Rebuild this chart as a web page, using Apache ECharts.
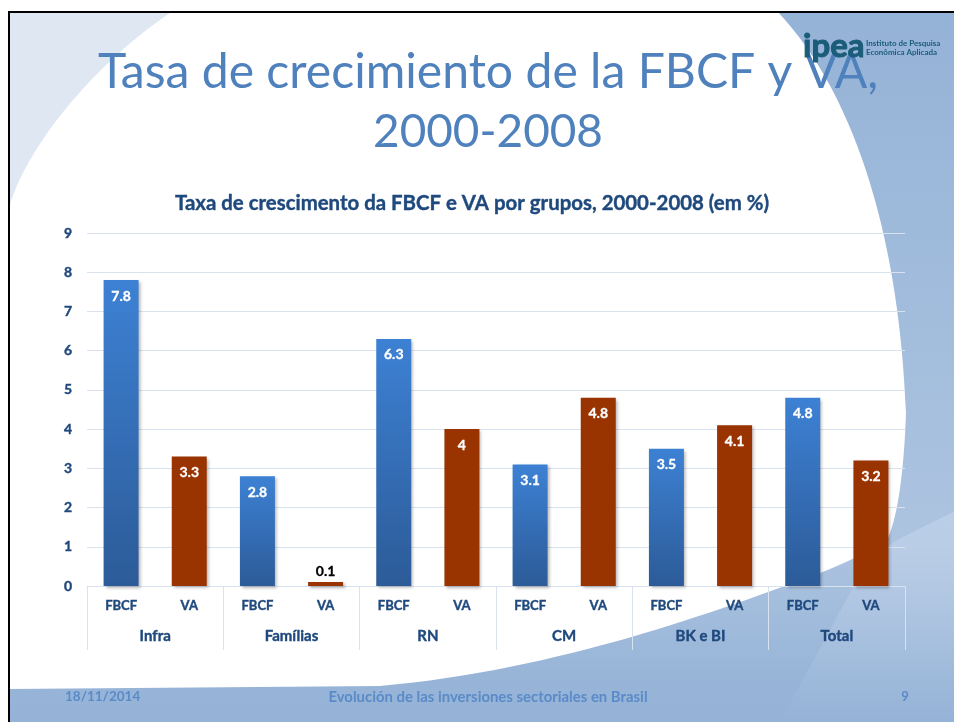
<!DOCTYPE html>
<html><head><meta charset="utf-8">
<script src="https://cdn.jsdelivr.net/npm/echarts@6/dist/echarts.min.js"></script>
<style>html,body{margin:0;padding:0;background:#fff}#c{width:954px;height:722px}</style>
</head><body><div id="c"></div>
<script>
// ---- data ----
const categories = ['FBCF','VA','FBCF','VA','FBCF','VA','FBCF','VA','FBCF','VA','FBCF','VA'];
const groups = ['Infra','Famílias','RN','CM','BK e BI','Total'];
const fbcfValues = [7.8, 2.8, 6.3, 3.1, 3.5, 4.8];
const vaValues = [3.3, 0.1, 4, 4.8, 4.1, 3.2];
const yMin = 0, yMax = 9, yStep = 1;
const mainTitle1 = 'Tasa de crecimiento de la FBCF y VA,';
const mainTitle2 = '2000-2008';
const chartTitle = 'Taxa de crescimento da FBCF e VA por grupos, 2000-2008 (em %)';
const footerDate = '18/11/2014';
const footerText = 'Evolución de las inversiones sectoriales en Brasil';
const footerPage = '9';

const FONT = 'Lato, "Open Sans", sans-serif';
function fit(text, weight, target) {
  const ctx = document.createElement('canvas').getContext('2d');
  ctx.font = weight + ' 100px ' + FONT;
  return 100 * target / ctx.measureText(text).width;
}

echarts.graphic.registerShape('slideWhite', echarts.graphic.extendPath(
  'M9 12 L778 12 C860 100 900 250 906 413 C904 470 898 515 888 538 C870 552 845 563 820 573 C720 610 560 670 380 686 L9 689 Z', {}));
echarts.graphic.registerShape('slideSwoosh', echarts.graphic.extendPath(
  'M10 13 L170 13 C100 60 30 140 10 205 Z', {}));
echarts.graphic.registerShape('slideLight', echarts.graphic.extendPath(
  'M870 556 C900 538 928 524 954 512 L954 722 L780 722 Z', {}));

const axisColor = '#1F497D';
const heavy = {textBorderColor: axisColor, textBorderWidth: 0.4};
const labelInside = {show: true, position: 'insideTop', distance: 9, color: '#fff', fontWeight: 'bold', fontSize: 14, fontFamily: FONT,
  textBorderColor: '#fff', textBorderWidth: 0.3};
function mk(v) {
  if (v == null) return null;
  if (v < 0.5) return {value: v, label: {position: 'top', distance: 4, color: '#000', textBorderColor: '#000'}};
  return v;
}
const fbcfData = categories.map((c, i) => i % 2 === 0 ? mk(fbcfValues[i / 2]) : null);
const vaData = categories.map((c, i) => i % 2 === 1 ? mk(vaValues[(i - 1) / 2]) : null);

const gridLine = '#D9E3F0';
const shadow = {shadowColor: 'rgba(0,0,0,0.28)', shadowBlur: 3, shadowOffsetX: 2, shadowOffsetY: 2};

const chart = echarts.init(document.getElementById('c'), null, {renderer: 'canvas'});
chart.setOption({
  animation: false,
  backgroundColor: '#fff',
  grid: {left: 87, right: 49, top: 233, bottom: 136, containLabel: false},
  xAxis: [
    {type: 'category', data: categories, position: 'bottom',
     axisLine: {show: false}, axisTick: {show: false},
     axisLabel: Object.assign({interval: 0, margin: 13, color: axisColor, fontWeight: 'bold', fontSize: 13, fontFamily: FONT}, heavy)},
    {type: 'category', data: groups, position: 'bottom',
     axisLine: {show: true, lineStyle: {color: gridLine, width: 1}},
     axisTick: {show: true, length: 64, interval: 0, lineStyle: {color: gridLine, width: 1}},
     axisLabel: Object.assign({interval: 0, margin: 43, color: axisColor, fontWeight: 'bold', fontSize: 15, fontFamily: FONT}, heavy)}
  ],
  yAxis: {type: 'value', min: yMin, max: yMax, interval: yStep,
    axisLine: {show: false}, axisTick: {show: false},
    splitLine: {lineStyle: {color: gridLine, width: 1}},
    axisLabel: Object.assign({margin: 15, color: axisColor, fontWeight: 'bold', fontSize: 14, fontFamily: FONT}, heavy)},
  series: [
    {name: 'FBCF', type: 'bar', xAxisIndex: 0, data: fbcfData, barWidth: 35, barGap: '-100%',
     itemStyle: Object.assign({color: new echarts.graphic.LinearGradient(0, 0, 0, 1, [
       {offset: 0, color: '#3D81D4'}, {offset: 1, color: '#2C5B98'}])}, shadow),
     label: labelInside},
    {name: 'VA', type: 'bar', xAxisIndex: 0, data: vaData, barWidth: 35, barGap: '-100%',
     itemStyle: Object.assign({color: '#993300'}, shadow),
     label: labelInside}
  ],
  graphic: {elements: [
    {type: 'rect', z: -100, silent: true, shape: {x: 9, y: 12, width: 945, height: 710},
     style: {fill: new echarts.graphic.LinearGradient(0, 0, 0, 1, [
       {offset: 0, color: '#95B3D7'}, {offset: 0.5, color: '#A4BEDD'}, {offset: 0.75, color: '#ADC4E0'},
       {offset: 0.93, color: '#98B5D8'}, {offset: 1, color: '#95B3D7'}])}},
    {type: 'slideLight', z: -99.5, silent: true, style: {fill: new echarts.graphic.LinearGradient(0, 0, 0, 1, [
       {offset: 0, color: 'rgba(198,214,236,0.6)'}, {offset: 0.6, color: 'rgba(198,214,236,0.25)'}, {offset: 1, color: 'rgba(198,214,236,0)'}])}},
    {type: 'slideWhite', z: -99, silent: true, style: {fill: '#fff'}},
    {type: 'slideSwoosh', z: -98, silent: true, style: {fill: '#DFE7F3'}},
    {type: 'rect', z: 50, silent: true, shape: {x: 8, y: 11, width: 2, height: 711}, style: {fill: '#000'}},
    {type: 'rect', z: 50, silent: true, shape: {x: 8, y: 11, width: 946, height: 2}, style: {fill: '#000'}},
    {type: 'text', z: 10, silent: true, x: 488, y: 72,
     style: {text: mainTitle1, fill: '#4F81BD', font: 'normal ' + fit(mainTitle1, 'normal', 781).toFixed(1) + 'px ' + FONT, align: 'center', verticalAlign: 'middle'}},
    {type: 'text', z: 10, silent: true, x: 488, y: 132,
     style: {text: mainTitle2, fill: '#4F81BD', font: 'normal ' + fit(mainTitle2, 'normal', 230).toFixed(1) + 'px ' + FONT, align: 'center', verticalAlign: 'middle'}},
    {type: 'text', z: 10, silent: true, x: 472, y: 203,
     style: {text: chartTitle, fill: axisColor, stroke: axisColor, lineWidth: 0.4, font: 'bold ' + fit(chartTitle, 'bold', 595).toFixed(1) + 'px ' + FONT, align: 'center', verticalAlign: 'middle'}},
    {type: 'text', z: 12, silent: true, x: 803, y: 46,
     style: {text: 'ipea', fill: '#1B5C78', stroke: '#1B5C78', lineWidth: 1, font: 'bold 33px ' + FONT, align: 'left', verticalAlign: 'middle'}},
    {type: 'text', z: 12, silent: true, x: 866, y: 43,
     style: {text: 'Instituto de Pesquisa', fill: '#1B5C78', font: 'bold 8px ' + FONT, align: 'left', verticalAlign: 'middle'}},
    {type: 'text', z: 12, silent: true, x: 866, y: 52,
     style: {text: 'Econômica Aplicada', fill: '#1B5C78', font: 'bold 8px ' + FONT, align: 'left', verticalAlign: 'middle'}},
    {type: 'text', z: 10, silent: true, x: 65, y: 697,
     style: {text: footerDate, fill: '#5A8BC8', font: 'bold ' + fit(footerDate, 'bold', 75).toFixed(1) + 'px ' + FONT, align: 'left', verticalAlign: 'middle'}},
    {type: 'text', z: 10, silent: true, x: 488, y: 697,
     style: {text: footerText, fill: '#5A8BC8', font: 'bold ' + fit(footerText, 'bold', 320).toFixed(1) + 'px ' + FONT, align: 'center', verticalAlign: 'middle'}},
    {type: 'text', z: 10, silent: true, x: 905, y: 697,
     style: {text: footerPage, fill: '#5A8BC8', font: 'bold 13px ' + FONT, align: 'center', verticalAlign: 'middle'}}
  ]}
});
</script></body></html>
